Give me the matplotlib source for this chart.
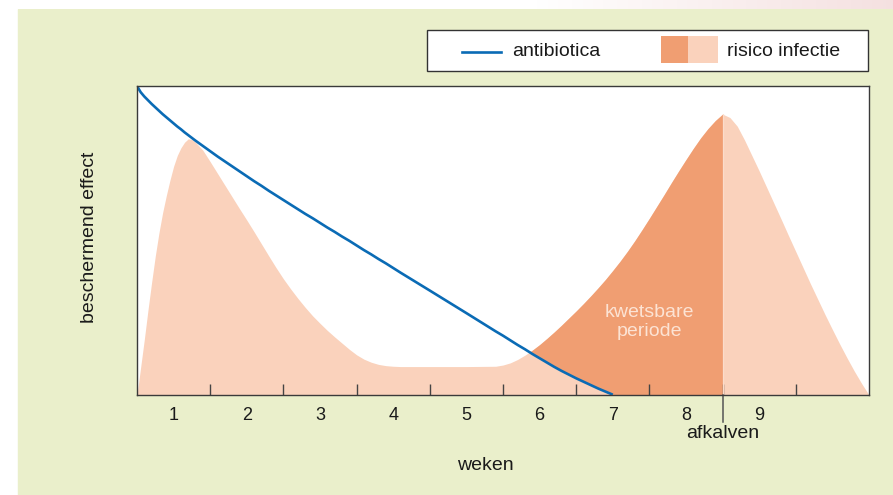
import matplotlib
matplotlib.use("Agg")
import matplotlib.pyplot as plt
import numpy as np
from matplotlib.patches import Rectangle
from matplotlib.lines import Line2D

# ---- data (x in weeks, y = relative effect 0..1) ----
weeks = [0, 0.05, 0.1, 0.15, 0.2, 0.25, 0.3, 0.35, 0.4, 0.45, 0.5, 0.55, 0.6,
         0.65, 0.7, 0.75, 0.8, 0.9, 1.0, 1.1, 1.2, 1.3, 1.4, 1.5, 1.6, 1.7,
         1.8, 1.9, 2.0, 2.1, 2.2, 2.3, 2.4, 2.5, 2.6, 2.7, 2.8, 2.9, 3.0, 3.1,
         3.2, 3.3, 3.4, 3.5, 3.6, 4.0, 4.5, 4.9, 5.0, 5.1, 5.2, 5.3, 5.4, 5.5,
         5.6, 5.7, 5.8, 5.9, 6.0, 6.1, 6.2, 6.3, 6.4, 6.5, 6.6, 6.7, 6.8, 6.9,
         7.0, 7.1, 7.2, 7.3, 7.4, 7.5, 7.6, 7.7, 7.8, 7.9, 8.0, 8.1, 8.2, 8.3,
         8.4, 8.5, 8.6, 8.7, 8.8, 8.9, 9.0, 9.1, 9.2, 9.3, 9.4, 9.5, 9.6, 9.7,
         9.8, 9.9, 10.0]
risico = [0, 0.09, 0.18, 0.275, 0.365, 0.45, 0.525, 0.59, 0.645, 0.695, 0.74,
          0.775, 0.80, 0.818, 0.829, 0.827, 0.818, 0.792, 0.755, 0.717, 0.679,
          0.641, 0.603, 0.566, 0.528, 0.489, 0.45, 0.412, 0.376, 0.343, 0.312,
          0.283, 0.256, 0.232, 0.209, 0.188, 0.168, 0.148, 0.130, 0.116, 0.106,
          0.099, 0.095, 0.093, 0.092, 0.092, 0.092, 0.093, 0.097, 0.104, 0.115,
          0.129, 0.145, 0.163, 0.183, 0.204, 0.226, 0.249, 0.272, 0.296, 0.321,
          0.347, 0.374, 0.403, 0.433, 0.465, 0.499, 0.535, 0.572, 0.61, 0.648,
          0.687, 0.725, 0.762, 0.798, 0.832, 0.862, 0.888, 0.909, 0.898, 0.87,
          0.825, 0.775, 0.725, 0.673, 0.621, 0.569, 0.516, 0.464, 0.412, 0.360,
          0.310, 0.260, 0.212, 0.165, 0.12, 0.077, 0.037, 0.0]
# antibiotica on the same grid, up to week 6.5 (where it reaches 0)
antibiotica = [1.0, 0.980, 0.966, 0.954, 0.942, 0.931, 0.920, 0.909, 0.899,
               0.889, 0.879, 0.869, 0.860, 0.850, 0.841, 0.832, 0.823, 0.806,
               0.789, 0.772, 0.756, 0.740, 0.724, 0.708, 0.692, 0.677, 0.661,
               0.646, 0.631, 0.616, 0.601, 0.586, 0.572, 0.557, 0.542, 0.528,
               0.513, 0.499, 0.484, 0.469, 0.455, 0.440, 0.426, 0.411, 0.396,
               0.338, 0.265, 0.206, 0.192, 0.177, 0.162, 0.148, 0.133, 0.119,
               0.105, 0.091, 0.078, 0.066, 0.054, 0.043, 0.032, 0.021, 0.011,
               0.001]
week_ticks = [1, 2, 3, 4, 5, 6, 7, 8, 9]
week_labels = ["1", "2", "3", "4", "5", "6", "7", "8", "9"]
afkalven = 8

C_BG = "#EAEFCB"
C_LIGHT = "#FAD2BC"
C_DARK = "#F09E72"
C_BLUE = "#0A6BB5"
C_TXT = "#1a1a1a"

plt.rcParams["font.family"] = ["Liberation Sans", "DejaVu Sans"]

W, H = 893, 495
fig = plt.figure(figsize=(W / 100, H / 100), dpi=100)
fig.patch.set_facecolor("white")
# light green panel
fig.patches.append(Rectangle((18 / W, 0), 1, 1 - 9 / H, transform=fig.transFigure,
                             color=C_BG, zorder=-5))
# top strip fading to pale pink on the right
gax = fig.add_axes([0, 1 - 9 / H, 1, 9 / H])
grad = np.linspace(0, 1, 256)
grad = np.clip((grad - 0.6) / 0.4, 0, 1)[None, :, None]
white = np.array([1, 1, 1])[None, None, :]
pink = np.array([0.96, 0.88, 0.88])[None, None, :]
gax.imshow(white * (1 - grad) + pink * grad, aspect="auto", extent=[0, 1, 0, 1])
gax.axis("off")

ax = fig.add_axes([137 / W, (H - 395) / H, (869 - 137) / W, (395 - 86) / H])
ax.set_facecolor("white")

x = np.array(weeks)
r = np.array(risico)
ab = np.array(antibiotica)
ab_full = np.r_[ab, np.zeros(len(x) - len(ab))]

ax.fill_between(x, 0, r, color=C_LIGHT, lw=0)
dark = ax.fill_between(x, ab_full, r, where=(r >= ab_full) & (x >= 4),
                       interpolate=True, color=C_DARK, lw=0)
# vulnerable period ends at calving
dark.set_clip_path(Rectangle((0, 0), afkalven, 1, transform=ax.transData))
i8 = weeks.index(afkalven)
ax.vlines(x[i8], 0, r[i8], color="#FBDCCB", lw=0.9)
ax.plot(x[:len(ab)], ab, color=C_BLUE, lw=1.9, solid_capstyle="butt")

ax.text(7.0, 0.236, "kwetsbare\nperiode", color="#FCE3D4", fontsize=14,
        ha="center", va="center", linespacing=1.15)

ax.set_xlim(0, 10)
ax.set_ylim(0, 1)
ax.set_yticks([])
ax.set_xticks(week_ticks)
ax.set_xticklabels([])
ax.tick_params(axis="x", which="major", direction="in", length=8, width=1,
               color="#444444")
ax.set_xticks([t - 0.5 for t in week_ticks], minor=True)
ax.set_xticklabels(week_labels, minor=True, fontsize=13, color=C_TXT)
ax.tick_params(axis="x", which="minor", length=0, pad=9)
for s in ax.spines.values():
    s.set_color("#3a3a3a")
    s.set_linewidth(1.0)

# afkalven marker below the axis
tr = ax.get_xaxis_transform()
ax.plot([afkalven, afkalven], [0, -27 / 309], color="#555555", lw=1.1,
        transform=tr, clip_on=False)
ax.text(afkalven, -39 / 309, "afkalven", transform=tr, ha="center", va="center",
        fontsize=14, color=C_TXT)

fig.text(485 / W, 1 - 465 / H, "weken", ha="center", va="center", fontsize=14,
         color=C_TXT)
fig.text(90 / W, 1 - 237 / H, "beschermend effect", ha="center", va="center",
         rotation=90, fontsize=14, color=C_TXT)

# legend box drawn by hand
fig.patches.append(Rectangle((427 / W, 1 - 71 / H), (868 - 427) / W, 41 / H,
                             transform=fig.transFigure, facecolor="white",
                             edgecolor="#333333", lw=1.0, zorder=5))
fig.lines.append(Line2D([462 / W, 501 / W], [1 - 52 / H] * 2, color=C_BLUE,
                        lw=1.9, transform=fig.transFigure, zorder=6))
fig.text(512 / W, 1 - 52 / H, "antibiotica", ha="left", va="center", fontsize=14,
         color=C_TXT, zorder=6)
fig.patches.append(Rectangle((661 / W, 1 - 63 / H), 26.5 / W, 27 / H,
                             transform=fig.transFigure, color=C_DARK, lw=0, zorder=6))
fig.patches.append(Rectangle((687.5 / W, 1 - 63 / H), 30 / W, 27 / H,
                             transform=fig.transFigure, color=C_LIGHT, lw=0, zorder=6))
fig.text(727 / W, 1 - 52 / H, "risico infectie", ha="left", va="center",
         fontsize=14, color=C_TXT, zorder=6)

fig.savefig("out.png", dpi=100, facecolor=fig.get_facecolor())
